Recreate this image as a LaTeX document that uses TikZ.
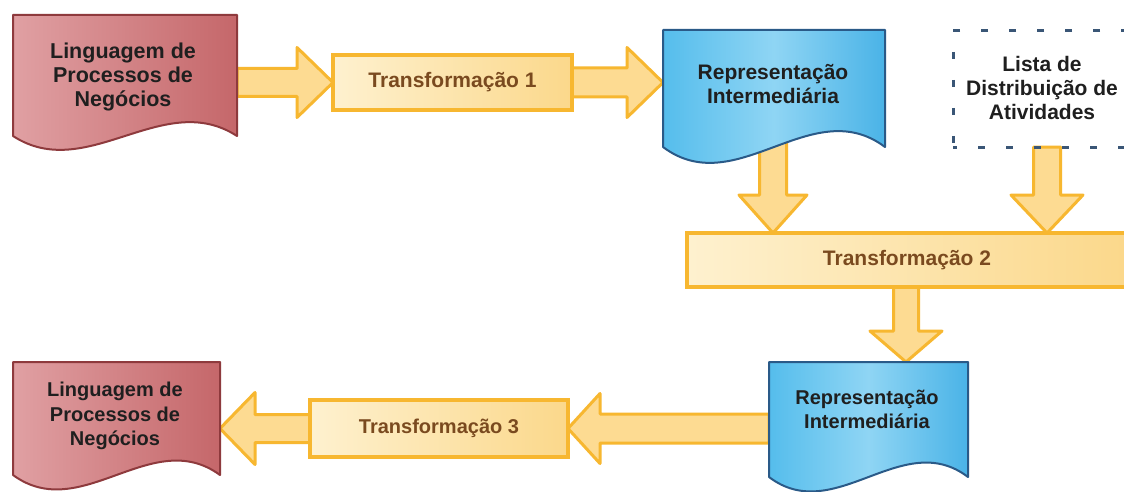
\documentclass[tikz,border=0pt]{standalone}
\usepackage{fontspec}
\setmainfont{Liberation Sans}
\usetikzlibrary{calc}
\definecolor{redL}{HTML}{E0A0A3}
\definecolor{redR}{HTML}{C5676A}
\definecolor{redline}{HTML}{8E3A3D}
\definecolor{blueL}{HTML}{55BDEC}
\definecolor{blueM}{HTML}{8FD5F4}
\definecolor{blueR}{HTML}{4AB3E7}
\definecolor{blueline}{HTML}{2A5A88}
\definecolor{tfillL}{HTML}{FEF1CF}
\definecolor{tfillR}{HTML}{FBD88B}
\definecolor{tline}{HTML}{F7B730}
\definecolor{ttext}{HTML}{7A4A1F}
\definecolor{afill}{HTML}{FDDB92}
\definecolor{dashline}{HTML}{3A5676}
\tikzset{
  x=1pt, y=1pt,
  area/.style={inner sep=0pt, outer sep=0pt, draw=none},
  doctext/.style={inner sep=0pt, align=center, text=black!88,
    font=\bfseries\fontsize{21.5}{24}\selectfont},
  doctextsmall/.style={doctext, font=\bfseries\fontsize{20}{24.5}\selectfont},
  reddoc/.style={draw=redline, line width=2pt, line join=round, left color=redL, right color=redR},
  bluedoc/.style={draw=blueline, line width=2pt, line join=round, left color=blueL, right color=blueR, middle color=blueM},
  tbox/.style={draw=tline, line width=3.5pt, left color=tfillL, right color=tfillR, inner sep=0pt,
    text=ttext, font=\bfseries\fontsize{21}{24}\selectfont},
  tboxsmall/.style={tbox, font=\bfseries\fontsize{20}{24}\selectfont},
  barrow/.style={draw=tline, line width=3pt, line join=round, fill=afill},
  dashbox/.style={draw=dashline, line width=3pt, dash pattern=on 7pt off 21pt, dash phase=3pt, inner sep=0pt},
}
% block arrow: from, to, head length, head half-width, shaft half-width
\newcommand\blockarrow[5]{%
  \coordinate (hb) at ($(#2)!#3!(#1)$);
  \path[barrow] ($(#1)!#5!90:(#2)$) -- ($(hb)!#5!90:(#2)$) -- ($(hb)!#4!90:(#2)$)
    -- (#2) -- ($(hb)!#4!-90:(#2)$) -- ($(hb)!#5!-90:(#2)$) -- ($(#1)!#5!-90:(#2)$) -- cycle;
}
% document shape on a rectangle node: node, wave amplitude, style
\newcommand\docpath[3]{%
  \path[#3] (#1.north west) -- (#1.north east) -- (#1.south east)
    .. controls ($(#1.south west)!0.67!(#1.south east)+(0,#2)$)
           and ($(#1.south west)!0.33!(#1.south east)+(0,-#2)$) .. (#1.south west) -- cycle;
}
\begin{document}
\begin{tikzpicture}
\clip (0,0) rectangle (1124,491);
\fill[white] (0,0) rectangle (1124,491);
% areas of the shapes
\node[area, minimum width=224, minimum height=121] (d1) at (125,415.5) {};
\node[area, minimum width=222, minimum height=117] (d2) at (774,402.5) {};
\node[area, minimum width=199, minimum height=115] (d3) at (868.5,71.5) {};
\node[area, minimum width=207, minimum height=113] (d4) at (116.5,72.5) {};
\node[area, minimum width=182, minimum height=116] (lista) at (1044,402) {};
\node[area, minimum width=239, minimum height=55] (t1) at (452.5,408.5) {};
\node[area, minimum width=440, minimum height=54] (t2) at (907,231) {};
\node[area, minimum width=258, minimum height=57] (t3) at (439,62.5) {};
% arrows
\coordinate (a1s) at (d1.east |- t1.west);
\coordinate (a2e) at (d2.west |- t1.east);
\coordinate (a3s) at (773,351);
\coordinate (a3e) at (a3s |- t2.north);
\coordinate (a4s) at (1047,344);
\coordinate (a4e) at (a4s |- t2.north);
\coordinate (a5s) at (906,231);
\coordinate (a5e) at (a5s |- d3.north);
\coordinate (a6s) at (d3.west |- t3.east);
\coordinate (a7e) at (d4.east |- t3.west);
\blockarrow{a1s}{t1.west}{36pt}{35pt}{14pt}
\blockarrow{t1.east}{a2e}{36pt}{35pt}{14.5pt}
\blockarrow{a3s}{a3e}{38pt}{34pt}{13.5pt}
\blockarrow{a4s}{a4e}{38pt}{36pt}{13.5pt}
\blockarrow{a5s}{a5e}{31pt}{36pt}{12.5pt}
\blockarrow{a6s}{t3.east}{32pt}{35pt}{14.5pt}
\blockarrow{t3.west}{a7e}{35pt}{36pt}{14pt}
% transformation boxes
\node[tbox, minimum width=239, minimum height=55] at (t1) {Transformação 1};
\node[tbox, minimum width=440, minimum height=54] at (t2) {Transformação 2};
\node[tboxsmall, minimum width=258, minimum height=57] at (t3) {Transformação 3};
% documents
\docpath{d1}{48}{reddoc}
\docpath{d2}{55}{bluedoc}
\docpath{d3}{50}{bluedoc}
\docpath{d4}{50}{reddoc}
\node[doctext] (d1t) at (123,414) {Linguagem de\\Processos de\\Negócios};
\node[doctext, font=\bfseries\fontsize{21}{24}\selectfont] (d2t) at (773,406.5) {Representação\\Intermediária};
\node[doctextsmall] (d3t) at (867,81.5) {Representação\\Intermediária};
\node[doctextsmall] (d4t) at (115,75) {Linguagem de\\Processos de\\Negócios};
% dashed list box
\node[dashbox, minimum width=182, minimum height=116] at (lista) {};
\node[doctext, font=\bfseries\fontsize{21}{24}\selectfont] (listat) at (1042,403) {Lista de\\Distribuição de\\Atividades};
\end{tikzpicture}
\end{document}
